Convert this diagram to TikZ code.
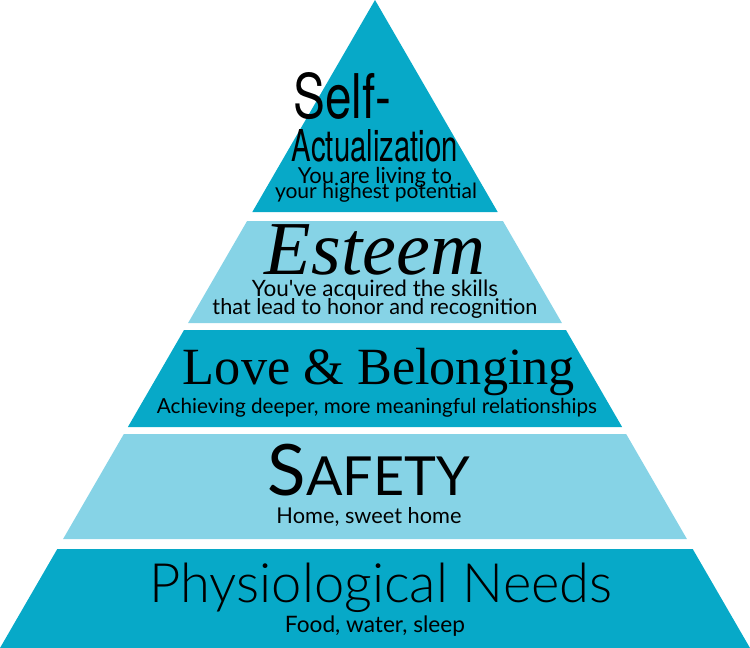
\documentclass[tikz,border=0pt]{standalone}
\usepackage{fontspec}
\usepackage{graphicx}
\setmainfont{Liberation Serif}
\newfontfamily\heros{TeX Gyre Heros}
\newfontfamily\lato{Lato}
\newfontfamily\latolight{Lato Light}
\newfontfamily\lserif{Liberation Serif}
\definecolor{dark}{HTML}{07A9C8}
\definecolor{light}{HTML}{86D3E6}
\begin{document}
\begin{tikzpicture}[x=1pt,y=-1pt,
  lab/.style={anchor=base,inner sep=0pt,text=black}]
\useasboundingbox (0,0) rectangle (750,648);
% bands
\fill[dark] (375,0) -- ({375-212*0.5787},212) -- ({375+212*0.5787},212) -- cycle;
\fill[light] ({375-221*0.5787},221) -- ({375+221*0.5787},221) -- ({375+323*0.5787},323) -- ({375-323*0.5787},323) -- cycle;
\fill[dark] ({375-330*0.5787},330) -- ({375+330*0.5787},330) -- ({375+427*0.5787},427) -- ({375-427*0.5787},427) -- cycle;
\fill[light] ({375-434*0.5787},434) -- ({375+434*0.5787},434) -- ({375+539*0.5787},539) -- ({375-539*0.5787},539) -- cycle;
\fill[dark] ({375-549*0.5787},549) -- ({375+549*0.5787},549) -- (750,648) -- (0,648) -- cycle;
% texts
\node[lab,anchor=base west] (s1) at (293,118) {\resizebox{98pt}{46pt}{\heros Self-}};
\node[lab] (s2) at (375,161) {\resizebox{166pt}{32pt}{\heros Actualization}};
\node[lab] (s3) at (375,183) {\resizebox{154pt}{!}{\lato You are living to}};
\node[lab] (s4) at (376,198) {\resizebox{202pt}{!}{\lato your highest potential}};
\node[lab] (e1) at (375,274) {\resizebox{220pt}{!}{\lserif\itshape Esteem}};
\node[lab] (e2) at (375,296) {\resizebox{246pt}{!}{\lato You've acquired the skills}};
\node[lab] (e3) at (375,314) {\resizebox{325pt}{!}{\lato that lead to honor and recognition}};
\node[lab] (l1) at (379,384) {\resizebox{392pt}{!}{\lserif Love \& Belonging}};
\node[lab] (l2) at (377,413) {\resizebox{440pt}{!}{\lato Achieving deeper, more meaningful relationships}};
\node[lab] (f1) at (369,495) {\resizebox{202pt}{!}{\lato S{\fontsize{7.6}{8}\selectfont AFETY}}};
\node[lab] (f2) at (369,523) {\resizebox{185pt}{!}{\lato Home, sweet home}};
\node[lab] (p1) at (381,602) {\resizebox{463pt}{!}{\latolight Physiological Needs}};
\node[lab] (p2) at (375,632) {\resizebox{180pt}{!}{\lato Food, water, sleep}};
\end{tikzpicture}
\end{document}
